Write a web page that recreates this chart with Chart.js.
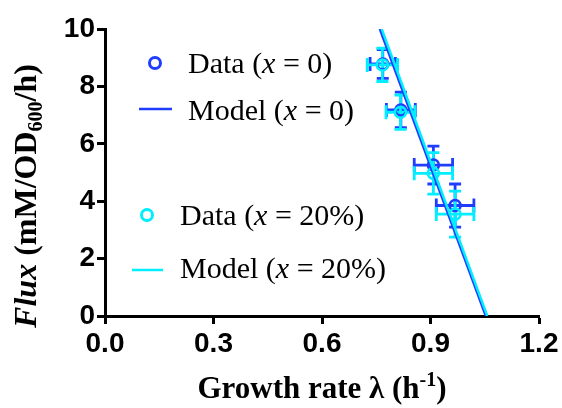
<!DOCTYPE html>
<html>
<head>
<meta charset="utf-8">
<script src="https://cdn.jsdelivr.net/npm/chart.js@4.4.1/dist/chart.umd.min.js"></script>
<style>
html, body { margin: 0; padding: 0; background: #fff; }
#wrap { width: 562px; height: 408px; }
</style>
</head>
<body>
<div id="wrap"><canvas id="fluxChart"></canvas></div>
<script>
"use strict";

// measured series, x = 0
const growth0 = [0.768, 0.818, 0.908, 0.968];
const growthErr0 = [0.035, 0.04, 0.053, 0.052];
const flux0 = [8.78, 7.18, 5.26, 3.85];
const fluxErr0 = [0.5, 0.62, 0.66, 0.75];

// measured series, x = 20%
const growth20 = [0.767, 0.817, 0.908, 0.968];
const growthErr20 = [0.042, 0.04, 0.053, 0.052];
const flux20 = [8.75, 7.1, 4.97, 3.55];
const fluxErr20 = [0.58, 0.6, 0.72, 0.8];

// model lines (end points)
const model0X = [0.76, 1.053];
const model0Y = [10, 0];
const model20X = [0.765, 1.057];
const model20Y = [10, 0];

const xTicks = [0, 0.3, 0.6, 0.9, 1.2];
const yTicks = [0, 2, 4, 6, 8, 10];

const legendLabels = [
	["Data (", "x", " = 0)"],
	["Model (", "x", " = 0)"],
	["Data (", "x", " = 20%)"],
	["Model (", "x", " = 20%)"],
];

const blue = "#1f3cff";
const cyan = "#00eeff";

const toPoints = (xs, ys) => xs.map((v, i) => ({ x: v, y: ys[i] }));

const errorSets = [
	{ color: blue, x: growth0, xErr: growthErr0, y: flux0, yErr: fluxErr0 },
	{ color: cyan, x: growth20, xErr: growthErr20, y: flux20, yErr: fluxErr20 },
];

const errorBars = {
	id: "errorBars",
	beforeDatasetsDraw(chart) {
		const { ctx } = chart;
		const xs = chart.scales.x;
		const ys = chart.scales.y;
		ctx.save();
		ctx.lineWidth = 2.8;
		errorSets.forEach((set) => {
			ctx.strokeStyle = set.color;
			set.x.forEach((gx, i) => {
				const px = xs.getPixelForValue(gx);
				const py = ys.getPixelForValue(set.y[i]);
				const x1 = xs.getPixelForValue(gx - set.xErr[i]);
				const x2 = xs.getPixelForValue(gx + set.xErr[i]);
				const y1 = ys.getPixelForValue(set.y[i] + set.yErr[i]);
				const y2 = ys.getPixelForValue(set.y[i] - set.yErr[i]);
				ctx.beginPath();
				ctx.moveTo(px, y1); ctx.lineTo(px, y2);
				ctx.moveTo(px - 6, y1); ctx.lineTo(px + 6, y1);
				ctx.moveTo(px - 6, y2); ctx.lineTo(px + 6, y2);
				ctx.moveTo(x1, py); ctx.lineTo(x2, py);
				ctx.moveTo(x1, py - 7); ctx.lineTo(x1, py + 7);
				ctx.moveTo(x2, py - 7); ctx.lineTo(x2, py + 7);
				ctx.stroke();
			});
		});
		ctx.restore();
	},
};

const serif = "'Liberation Serif', 'Times New Roman', serif";

function drawRuns(ctx, runs, x, y) {
	// runs: [text, font, dy]
	let cx = x;
	runs.forEach(([text, font, dy]) => {
		ctx.font = font;
		ctx.fillText(text, cx, y + (dy || 0));
		cx += ctx.measureText(text).width;
	});
	return cx - x;
}

function runsWidth(ctx, runs) {
	let w = 0;
	runs.forEach(([text, font]) => {
		ctx.font = font;
		w += ctx.measureText(text).width;
	});
	return w;
}

const annotations = {
	id: "annotations",
	afterDraw(chart) {
		const { ctx } = chart;
		ctx.save();
		ctx.fillStyle = "#000";
		ctx.textBaseline = "alphabetic";
		ctx.textAlign = "left";

		// x axis title
		const xRuns = [
			["Growth rate \u03bb (h", "bold 31px " + serif, 0],
			["-1", "bold 20px " + serif, -12],
			[")", "bold 31px " + serif, 0],
		];
		const xw = runsWidth(ctx, xRuns);
		drawRuns(ctx, xRuns, 322 - xw / 2, 398);

		// y axis title
		const yRuns = [
			["Flux", "italic bold 32px " + serif, 0],
			[" (mM/OD", "bold 32px " + serif, 0],
			["600", "bold 20px " + serif, 6],
			["/h)", "bold 32px " + serif, 0],
		];
		const yw = runsWidth(ctx, yRuns);
		ctx.save();
		ctx.translate(36, 196);
		ctx.rotate(-Math.PI / 2);
		drawRuns(ctx, yRuns, -yw / 2, 0);
		ctx.restore();

		// legend
		const items = [
			{ kind: "point", color: blue, mx: 155, my: 63, tx: 188, base: 73 },
			{ kind: "line", color: blue, mx: 139, mx2: 172, my: 109, tx: 188, base: 120 },
			{ kind: "point", color: cyan, mx: 147, my: 215, tx: 180, base: 225 },
			{ kind: "line", color: cyan, mx: 132, mx2: 163, my: 270, tx: 180, base: 278 },
		];
		items.forEach((it, i) => {
			ctx.strokeStyle = it.color;
			ctx.lineWidth = it.kind === "point" ? 3 : 2.5;
			ctx.beginPath();
			if (it.kind === "point") {
				ctx.arc(it.mx, it.my, 5.5, 0, Math.PI * 2);
			} else {
				ctx.moveTo(it.mx, it.my);
				ctx.lineTo(it.mx2, it.my);
			}
			ctx.stroke();
			const lab = legendLabels[i];
			drawRuns(ctx, [
				[lab[0], "30px " + serif, 0],
				[lab[1], "italic 30px " + serif, 0],
				[lab[2], "30px " + serif, 0],
			], it.tx, it.base);
		});
		ctx.restore();
	},
};

const tickFont = { family: "'Liberation Sans', Arial, sans-serif", size: 28, weight: "bold" };

const axisGrid = {
	display: true,
	drawOnChartArea: false,
	drawTicks: true,
	tickLength: 8,
	tickWidth: 3,
	tickColor: "#000",
};

new Chart(document.getElementById("fluxChart"), {
	type: "scatter",
	data: {
		datasets: [
			{
				label: "Data (x = 0)",
				data: toPoints(growth0, flux0),
				borderColor: blue,
				backgroundColor: "rgba(0,0,0,0)",
				borderWidth: 2.5,
				pointRadius: 5.5,
				order: 4,
			},
			{
				label: "Data (x = 20%)",
				data: toPoints(growth20, flux20),
				borderColor: cyan,
				backgroundColor: "rgba(0,0,0,0)",
				borderWidth: 2.5,
				pointRadius: 5.5,
				order: 3,
			},
			{
				label: "Model (x = 0)",
				data: toPoints(model0X, model0Y),
				showLine: true,
				borderColor: blue,
				borderWidth: 2.5,
				pointRadius: 0,
				order: 2,
			},
			{
				label: "Model (x = 20%)",
				data: toPoints(model20X, model20Y),
				showLine: true,
				borderColor: cyan,
				borderWidth: 2.5,
				pointRadius: 0,
				order: 1,
			},
		],
	},
	options: {
		responsive: true,
		maintainAspectRatio: false,
		animation: false,
		layout: { padding: { top: 29, right: 23, left: 0, bottom: 0 } },
		plugins: {
			legend: { display: false },
			tooltip: { enabled: false },
		},
		scales: {
			x: {
				type: "linear",
				min: 0,
				max: 1.2,
				afterBuildTicks: (s) => { s.ticks = xTicks.map((v) => ({ value: v })); },
				afterFit: (s) => { s.height = 92; },
				ticks: {
					font: tickFont,
					color: "#000",
					padding: 3,
					maxRotation: 0,
					callback: (v) => Number(v).toFixed(1),
				},
				grid: axisGrid,
				border: { display: true, color: "#000", width: 3 },
			},
			y: {
				min: 0,
				max: 10,
				afterBuildTicks: (s) => { s.ticks = yTicks.map((v) => ({ value: v })); },
				afterFit: (s) => { s.width = 105; },
				ticks: {
					font: tickFont,
					color: "#000",
					padding: 2,
				},
				grid: axisGrid,
				border: { display: true, color: "#000", width: 3 },
			},
		},
	},
	plugins: [errorBars, annotations],
});
</script>
</body>
</html>
